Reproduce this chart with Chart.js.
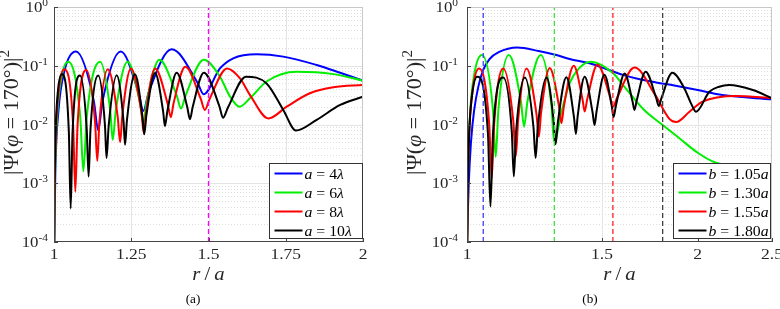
<!DOCTYPE html>
<html>
<head>
<meta charset="utf-8">
<script src="https://cdn.jsdelivr.net/npm/chart.js@4.4.1/dist/chart.umd.min.js"></script>
<style>
  html, body { margin: 0; padding: 0; background: #fff; }
  #wrap { position: relative; width: 780px; height: 309px; overflow: hidden; }
  canvas { position: absolute; top: 0; }
  #chartA { left: 0; }
  #chartB { left: 390px; }
</style>
</head>
<body>
<div id="wrap">
  <canvas id="chartA" width="390" height="309"></canvas>
  <canvas id="chartB" width="390" height="309"></canvas>
</div>
<script>
// ---- panel (a): |Psi|^2 against r/a, for a = 4, 6, 8, 10 lambda ----
const xTicksA = [1, 1.25, 1.5, 1.75, 2];
const xLabelsA = ['1', '1.25', '1.5', '1.75', '2'];
const aLabels = ['4', '6', '8', '10'];
const vlineA = [1.5];

const a4 = [[1.001,1e-4],[1.0043,0.00155],[1.0142,0.0165],[1.034,0.082],[1.071,0.174],[1.129,0.025],[1.143,0.008],[1.157,0.025],
  [1.216,0.174],[1.274,0.034],[1.289,0.017],[1.307,0.036],[1.381,0.19],[1.464,0.052],[1.484,0.0327],[1.537,0.09],[1.58,0.134],
  [1.656,0.157],[1.742,0.143],[1.85,0.103],[1.926,0.076],[2.0,0.0557]];
const a6 = [[1.0007,1e-4],[1.0028,0.00104],[1.0092,0.0111],[1.022,0.055],[1.046,0.117],[1.085,0.0133],[1.095,0.0016],[1.106,0.0133],
  [1.149,0.117],[1.182,0.0172],[1.19,0.0055],[1.2,0.0172],[1.238,0.117],[1.279,0.0222],[1.289,0.0105],[1.299,0.023],[1.341,0.126],
  [1.397,0.0314],[1.411,0.0188],[1.426,0.0314],[1.485,0.126],[1.537,0.065],[1.57,0.0297],[1.6,0.0201],[1.634,0.0279],[1.688,0.054],
  [1.785,0.079],[1.904,0.072],[2.0,0.0557]];
const a8 = [[1.0005,1e-4],[1.002,0.00078],[1.0066,0.0083],[1.016,0.041],[1.033,0.087],[1.062,0.0094],[1.069,0.00072],[1.076,0.0092],
  [1.104,0.085],[1.133,0.0109],[1.14,0.0024],[1.147,0.0111],[1.174,0.087],[1.206,0.0137],[1.214,0.005],[1.221,0.014],[1.249,0.09],
  [1.283,0.016],[1.291,0.007],[1.298,0.016],[1.327,0.09],[1.368,0.0223],[1.378,0.0133],[1.387,0.023],[1.425,0.096],[1.475,0.0273],
  [1.488,0.0177],[1.503,0.0267],[1.56,0.09],[1.602,0.061],[1.634,0.032],[1.694,0.0127],[1.753,0.0201],[1.828,0.034],[1.904,0.043],
  [2.0,0.047]];
const a10 = [[1.0005,1e-4],[1.0015,0.0006],[1.005,0.0068],[1.012,0.034],[1.025,0.072],[1.048,0.0076],[1.054,0.00037],[1.06,0.0072],
  [1.084,0.068],[1.106,0.0081],[1.112,0.0013],[1.118,0.0081],[1.143,0.068],[1.165,0.0095],[1.17,0.0027],[1.177,0.0096],[1.203,0.069],
  [1.225,0.0114],[1.23,0.0045],[1.236,0.0117],[1.262,0.072],[1.286,0.014],[1.292,0.0068],[1.299,0.0143],[1.327,0.075],[1.353,0.0169],
  [1.359,0.0094],[1.367,0.017],[1.397,0.076],[1.431,0.02],[1.44,0.0123],[1.449,0.02],[1.485,0.076],[1.535,0.0206],[1.547,0.013],
  [1.563,0.0195],[1.621,0.065],[1.688,0.05],[1.742,0.0177],[1.783,0.0079],[1.85,0.012],[1.926,0.0215],[2.0,0.0297]];

// ---- panel (b): same quantity for b = 1.05a ... 1.80a (log r axis) ----
const xTicksB = [1, 1.5, 2, 2.5];
const xLabelsB = ['1', '1.5', '2', '2.5'];
const bLabels = ['1.05', '1.30', '1.55', '1.80'];
const vlinesB = [1.05, 1.30, 1.55, 1.80];

const b105 = [[1.0,1e-4],[1.005,0.0009],[1.012,0.005],[1.022,0.018],[1.035,0.045],[1.05,0.085],[1.07,0.13],[1.1,0.17],[1.163,0.204],
  [1.24,0.178],[1.308,0.152],[1.361,0.13],[1.445,0.11],[1.52,0.088],[1.597,0.07],[1.68,0.059],[1.765,0.052],[1.864,0.046],
  [2.0,0.0386],[2.154,0.0317],[2.5,0.0268]];
const b130 = [[1.0007,1e-4],[1.0028,0.00135],[1.0092,0.0145],[1.022,0.071],[1.046,0.152],[1.081,0.018],[1.09,0.0028],[1.099,0.018],
  [1.134,0.152],[1.176,0.0244],[1.187,0.0092],[1.199,0.0244],[1.248,0.152],[1.289,0.0203],[1.299,0.0051],[1.329,0.0168],[1.361,0.05],
  [1.4,0.09],[1.45,0.117],[1.55,0.075],[1.6,0.046],[1.7,0.018],[1.8,0.0098],[1.9,0.0056],[2.0,0.0033],[2.1,0.0023],[2.2,0.002],
  [2.35,0.0019],[2.5,0.0019]];
const b155 = [[1.0008,1e-4],[1.0022,0.0008],[1.0074,0.0086],[1.018,0.042],[1.037,0.09],[1.069,0.0102],[1.077,0.0012],[1.085,0.0102],
  [1.115,0.09],[1.149,0.0119],[1.158,0.0029],[1.166,0.0119],[1.196,0.09],[1.232,0.0152],[1.241,0.0062],[1.249,0.0154],[1.282,0.092],
  [1.319,0.0197],[1.328,0.0105],[1.338,0.0205],[1.378,0.1],[1.415,0.0266],[1.424,0.0166],[1.435,0.027],[1.48,0.104],[1.536,0.0304],
  [1.55,0.02],[1.571,0.0293],[1.654,0.093],[1.76,0.032],[1.837,0.0125],[1.874,0.011],[1.951,0.0165],[2.029,0.0245],[2.243,0.0306],
  [2.5,0.028]];
const b180 = [[1.0008,1e-4],[1.0019,0.00058],[1.0062,0.0062],[1.015,0.03],[1.031,0.065],[1.065,0.0069],[1.073,0.0004],[1.081,0.0067],
  [1.115,0.063],[1.144,0.0076],[1.151,0.0013],[1.159,0.0076],[1.19,0.063],[1.221,0.009],[1.229,0.0027],[1.237,0.009],[1.27,0.063],
  [1.298,0.0109],[1.305,0.0046],[1.314,0.011],[1.348,0.064],[1.379,0.0133],[1.387,0.0069],[1.394,0.0134],[1.424,0.065],[1.458,0.0163],
  [1.467,0.0098],[1.476,0.0168],[1.511,0.07],[1.545,0.0203],[1.553,0.0133],[1.564,0.0207],[1.606,0.074],[1.644,0.025],[1.654,0.0177],
  [1.665,0.0256],[1.71,0.079],[1.765,0.0286],[1.779,0.0207],[1.794,0.0283],[1.853,0.076],[1.92,0.042],[1.963,0.022],[1.99,0.0165],
  [2.071,0.036],[2.133,0.044],[2.198,0.047],[2.36,0.0386],[2.5,0.028]];

const yDecades = [-4, -3, -2, -1, 0];
const yMinorMult = [2, 3, 4, 5, 6, 7, 8, 9];
const lineColors = ['#0000ff', '#00ee00', '#ff0000', '#000000'];
const vlineColorsB = ['#4040ff', '#40e040', '#ff2020', '#404040'];

const SERIF = '"Liberation Serif", "Times New Roman", serif';

function fontOf(p, size) {
  const s = p.sup ? size * 0.68 : size;
  return (p.it ? 'italic ' : '') + s + 'px ' + SERIF;
}
// draws a run of text pieces (italic / superscript), sx = horizontal stretch
function drawRich(ctx, parts, x, y, size, align, sx, rot) {
  ctx.save();
  ctx.translate(x, y);
  if (rot) ctx.rotate(-Math.PI / 2);
  ctx.scale(sx, 1);
  let w = 0;
  parts.forEach(p => { ctx.font = fontOf(p, size); w += ctx.measureText(p.t).width; });
  let cx = align === 'center' ? -w / 2 : align === 'right' ? -w : 0;
  ctx.textAlign = 'left';
  ctx.textBaseline = 'alphabetic';
  parts.forEach(p => {
    ctx.font = fontOf(p, size);
    ctx.fillText(p.t, cx, p.sup ? -size * 0.42 : 0);
    cx += ctx.measureText(p.t).width;
  });
  ctx.restore();
}
function hline(ctx, x0, x1, y) { ctx.beginPath(); ctx.moveTo(x0, y); ctx.lineTo(x1, y); ctx.stroke(); }
function vline(ctx, x, y0, y1) { ctx.beginPath(); ctx.moveTo(x, y0); ctx.lineTo(x, y1); ctx.stroke(); }

const panelOpts = {};

const decor = {
  id: 'decor',
  beforeDatasetsDraw(chart) {
    const o = panelOpts[chart.canvas.id];
    const { ctx, chartArea: a, scales: { x, y } } = chart;
    ctx.save();
    ctx.lineWidth = 1;
    // minor grid (dotted)
    ctx.strokeStyle = '#dedede';
    ctx.setLineDash([1, 2]);
    yDecades.slice(0, -1).forEach(e => yMinorMult.forEach(m => {
      hline(ctx, a.left, a.right, Math.round(y.getPixelForValue(m * Math.pow(10, e))) + 0.5);
    }));
    // major grid
    ctx.setLineDash([]);
    ctx.strokeStyle = '#e4e4e4';
    yDecades.slice(1, -1).forEach(e => hline(ctx, a.left, a.right, Math.round(y.getPixelForValue(Math.pow(10, e))) + 0.5));
    o.xTicks.slice(1, -1).forEach(v => vline(ctx, Math.round(x.getPixelForValue(v)) + 0.5, a.top, a.bottom));
    ctx.restore();
  },
  afterDatasetsDraw(chart) {
    const o = panelOpts[chart.canvas.id];
    const { ctx, chartArea: a, scales: { x, y } } = chart;
    ctx.save();
    // axes box
    ctx.lineWidth = 1;
    ctx.strokeStyle = '#c8c8c8';
    hline(ctx, a.left, a.right, Math.round(a.top) + 0.5);
    vline(ctx, Math.round(a.right) - 0.5, a.top, a.bottom);
    ctx.strokeStyle = '#444';
    hline(ctx, a.left, a.right, Math.round(a.bottom) - 0.5);
    vline(ctx, Math.round(a.left) + 0.5, a.top, a.bottom);
    yDecades.forEach(e => hline(ctx, a.left, a.left + 4, Math.round(y.getPixelForValue(Math.pow(10, e))) + 0.5));
    o.xTicks.forEach(v => vline(ctx, Math.round(x.getPixelForValue(v)) + 0.5, a.bottom - 4, a.bottom));

    ctx.fillStyle = '#262626';
    yDecades.forEach(e => {
      drawRich(ctx, [{ t: '10' }, { t: String(e), sup: true }], o.yLabelRight, y.getPixelForValue(Math.pow(10, e)) + 5, 14, 'right', 1.2);
    });
    o.xTicks.forEach((v, i) => drawRich(ctx, [{ t: o.xLabels[i] }], x.getPixelForValue(v), a.bottom + 17, 14, 'center', 1.25));
    // axis titles
    drawRich(ctx, [{ t: 'r', it: true }, { t: '\u2009/\u2009' }, { t: 'a', it: true }], (a.left + a.right) / 2, a.bottom + 38, 18, 'center', 1.15);
    drawRich(ctx, [{ t: '|Ψ(' }, { t: 'φ', it: true }, { t: ' = 170°)|' }, { t: '2', sup: true }],
      o.yTitleX, (a.top + a.bottom) / 2 - 12, 21, 'center', 1.05, true);
    // caption
    ctx.fillStyle = '#000';
    drawRich(ctx, [{ t: o.caption }], o.captionX, 303, 12, 'center', 1.1);

    // legend
    const L = o.legend;
    const bx = Math.round(a.right - L.right - L.w) + 0.5, by = Math.round(a.bottom - L.bottom - L.h) + 0.5;
    ctx.fillStyle = '#fff';
    ctx.fillRect(bx, by, L.w, L.h);
    ctx.strokeStyle = '#333';
    ctx.lineWidth = 1;
    ctx.strokeRect(bx, by, L.w, L.h);
    L.entries.forEach((en, i) => {
      const ly = by + 10 + i * 19;
      ctx.strokeStyle = en.color;
      ctx.lineWidth = 2;
      hline(ctx, bx + 5, bx + 33, ly);
      ctx.fillStyle = '#000';
      drawRich(ctx, en.parts, bx + 35, ly + 5, 15, 'left', 1.05);
    });
    ctx.restore();
  }
};

function makePanel(id, xType, xTicks, series, vlines, o) {
  panelOpts[id] = Object.assign({ xTicks }, o);
  const datasets = series.map((s, i) => ({
    data: s.map(p => ({ x: p[0], y: p[1] })),
    borderColor: lineColors[i], borderWidth: 2, pointRadius: 0, fill: false,
    cubicInterpolationMode: 'monotone', order: 4 - i
  }));
  vlines.forEach(v => datasets.push({
    data: [{ x: v.x, y: 1e-4 }, { x: v.x, y: 1 }],
    borderColor: v.color, borderWidth: 1.3, borderDash: [5, 3], pointRadius: 0, tension: 0, order: 0
  }));
  return new Chart(document.getElementById(id), {
    type: 'line',
    data: { datasets },
    options: {
      responsive: false, animation: false, events: [],
      layout: { padding: { top: 7, right: o.padRight, left: 0, bottom: 0 } },
      plugins: { legend: { display: false }, tooltip: { enabled: false } },
      scales: {
        x: {
          type: xType, min: xTicks[0], max: xTicks[xTicks.length - 1],
          afterBuildTicks: s => { s.ticks = xTicks.map(v => ({ value: v })); },
          afterFit: s => { s.height = 67; },
          ticks: { display: false }, grid: { display: false }, border: { display: false }
        },
        y: {
          type: 'logarithmic', min: 1e-4, max: 1,
          afterFit: s => { s.width = o.yAxisWidth; },
          ticks: { display: false }, grid: { display: false }, border: { display: false }
        }
      }
    },
    plugins: [decor]
  });
}

makePanel('chartA', 'linear', xTicksA, [a4, a6, a8, a10],
  vlineA.map(v => ({ x: v, color: '#ff00ff' })),
  {
    xLabels: xLabelsA, yAxisWidth: 54, padRight: 27, yLabelRight: 48, yTitleX: 18,
    caption: '(a)', captionX: 193,
    legend: {
      w: 93, h: 75, right: 1, bottom: 4,
      entries: aLabels.map((t, i) => ({
        color: lineColors[i], parts: [{ t: 'a', it: true }, { t: ' = ' + t }, { t: 'λ', it: true }]
      }))
    }
  });

makePanel('chartB', 'logarithmic', xTicksB, [b105, b130, b155, b180],
  vlinesB.map((v, i) => ({ x: v, color: vlineColorsB[i] })),
  {
    xLabels: xLabelsB, yAxisWidth: 77, padRight: 8, yLabelRight: 68, yTitleX: 31,
    caption: '(b)', captionX: 200,
    legend: {
      w: 97, h: 75, right: 2, bottom: 4,
      entries: bLabels.map((t, i) => ({
        color: lineColors[i], parts: [{ t: 'b', it: true }, { t: ' = ' + t }, { t: 'a', it: true }]
      }))
    }
  });
</script>
</body>
</html>
